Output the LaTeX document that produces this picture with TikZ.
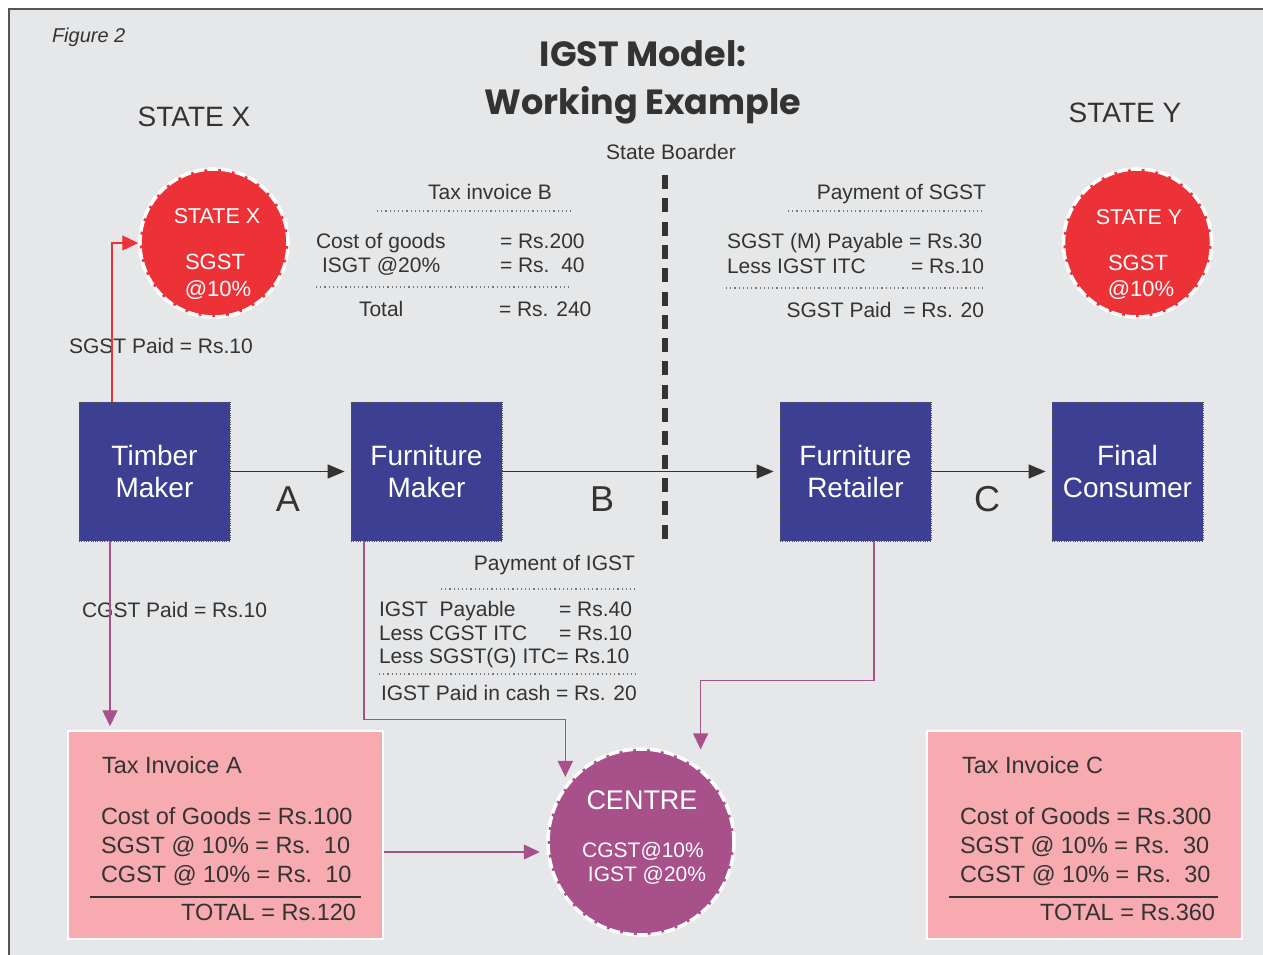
\documentclass[tikz,border=0pt]{standalone}
\usepackage{fontspec}
\setmainfont{Liberation Sans}
\newfontfamily\titlefont{Poppins}
\usetikzlibrary{arrows.meta}
\definecolor{bg}{HTML}{E6E7E9}
\definecolor{txt}{HTML}{333333}
\definecolor{boxblue}{HTML}{3D3F93}
\definecolor{sred}{HTML}{EC3237}
\definecolor{mag}{HTML}{A8508A}
\definecolor{pinkbox}{HTML}{F7ABB0}
\definecolor{framec}{HTML}{555555}
\definecolor{dotc}{HTML}{777777}
\begin{document}
\begin{tikzpicture}[x=1pt,y=-1pt,
  lbl/.style={text=txt, inner sep=0pt, outer sep=0pt},
  small/.style={lbl, font=\fontsize{21}{25}\selectfont},
  inv/.style={lbl, font=\fontsize{23.5}{28}\selectfont},
  wlbl/.style={text=white, inner sep=0pt, outer sep=0pt},
  actor/.style={rectangle, fill=boxblue, draw=framec, dash pattern=on 1pt off 1.3pt, line width=0.8pt,
    minimum width=151pt, minimum height=139pt, text=white, align=center,
    font=\fontsize{28}{32}\selectfont, inner sep=0pt},
  statecirc/.style={circle, fill=sred, draw=white, line width=3.5pt, dash pattern=on 11pt off 3pt,
    minimum size=148pt, inner sep=0pt},
  centrecirc/.style={circle, fill=mag, draw=white, line width=3.5pt, dash pattern=on 11pt off 3pt,
    minimum size=186pt, inner sep=0pt},
  invoicebox/.style={rectangle, fill=pinkbox, draw=white, line width=1.5pt,
    minimum width=315pt, minimum height=208pt, inner sep=0pt},
  flow/.style={draw=txt, line width=1.6pt, -{Triangle[length=17pt,width=14pt]}, shorten >=6pt},
  magflow/.style={draw=mag, line width=1.3pt, -{Triangle[length=16pt,width=15pt]}},
  redflow/.style={draw=sred, line width=1.3pt, -{Triangle[length=16pt,width=15pt]}},
  sepline/.style={draw=dotc, line width=1.1pt, dash pattern=on 1.1pt off 3.1pt},
  ruleline/.style={draw=txt, line width=1.2pt},
  borderline/.style={draw=txt, line width=6.5pt, dash pattern=on 14pt off 9.3pt}
]
\useasboundingbox (0,0) rectangle (1263,955);
% frame
\fill[white] (0,0) rectangle (1263,955);
\fill[bg] (9,9) rectangle (1263,955);
\draw[framec, line width=1.5pt] (9,955) -- (9,9) -- (1263,9);

% headings
\node[lbl, anchor=base west, font=\fontsize{20}{24}\selectfont\itshape] (fig) at (52,43) {Figure 2};
\node[lbl, anchor=base, font=\titlefont\bfseries\fontsize{35}{40}\selectfont] (t1) at (643,67) {IGST Model:};
\node[lbl, anchor=base, font=\titlefont\bfseries\fontsize{35}{40}\selectfont] (t2) at (643,114) {Working Example};
\node[lbl, anchor=base, font=\fontsize{28}{32}\selectfont] (hx) at (194,127) {STATE X};
\node[lbl, anchor=base, font=\fontsize{28}{32}\selectfont] (hy) at (1125,123) {STATE Y};
\node[lbl, anchor=base, font=\fontsize{21}{25}\selectfont] (sb) at (671,160) {State Boarder};

% state circles
\node[statecirc] (sx) at (214,243) {};
\node[wlbl, anchor=base, font=\fontsize{21.5}{25}\selectfont] (sx1) at (217,223) {STATE X};
\node[wlbl, anchor=base, font=\fontsize{22}{25}\selectfont] (sx2) at (215,269) {SGST};
\node[wlbl, anchor=base, font=\fontsize{22}{25}\selectfont] (sx3) at (218,296) {@10\%};
\node[statecirc] (sy) at (1137.5,243) {};
\node[wlbl, anchor=base, font=\fontsize{21.5}{25}\selectfont] (sy1) at (1139,224) {STATE Y};
\node[wlbl, anchor=base, font=\fontsize{22}{25}\selectfont] (sy2) at (1138,270) {SGST};
\node[wlbl, anchor=base, font=\fontsize{22}{25}\selectfont] (sy3) at (1141,296) {@10\%};

% Tax invoice B block
\node[small, anchor=base] (tb0) at (490,199) {Tax invoice B};
\draw[sepline] (377,211) -- (572,211);
\node[small, anchor=base west] (tb1) at (316,248) {Cost of goods};
\node[small, anchor=base west] (tb1v) at (500,248) {= Rs.200};
\node[small, anchor=base west] (tb2) at (322,272) {ISGT @20\%};
\node[small, anchor=base west] (tb2v) at (500,272) {= Rs.\ \ 40};
\draw[sepline] (316,287) -- (570,287);
\node[small, anchor=base west] (tb3) at (359,316) {Total};
\node[small, anchor=base west] (tb3v) at (499,316) {= Rs. 240};

% Payment of SGST block
\node[small, anchor=base east] (ps0) at (986,199) {Payment of SGST};
\draw[sepline] (788,211) -- (983,211);
\node[small, anchor=base west] (ps1) at (727,248) {SGST (M) Payable = Rs.30};
\node[small, anchor=base west] (ps2) at (727,273) {Less IGST ITC};
\node[small, anchor=base east] (ps2v) at (984,273) {= Rs.10};
\draw[sepline] (726,288) -- (983,288);
\node[small, anchor=base east] (ps3) at (984,317) {SGST Paid\ \ = Rs. 20};

% Payment of IGST block
\node[small, anchor=base east] (pi0) at (635,570) {Payment of IGST};
\draw[sepline] (441,589) -- (635,589);
\node[small, anchor=base west] (pi1) at (379,616) {IGST\ \ Payable};
\node[small, anchor=base west] (pi1v) at (559,616) {= Rs.40};
\node[small, anchor=base west] (pi2) at (379,640) {Less CGST ITC};
\node[small, anchor=base west] (pi2v) at (559,640) {= Rs.10};
\node[small, anchor=base west] (pi3) at (379,663) {Less SGST(G) ITC= Rs.10};
\draw[sepline] (379,674) -- (636,674);
\node[small, anchor=base west] (pi4) at (381,700) {IGST Paid in cash = Rs. 20};

% side labels
\node[small, anchor=base west] (sgp) at (69,353) {SGST Paid = Rs.10};
\node[small, anchor=base west] (cgp) at (82,617) {CGST Paid = Rs.10};

% actors
\node[actor] (tm) at (154.5,471.5) {Timber\\Maker};
\node[actor] (fm) at (426.5,471.5) {Furniture\\Maker};
\node[actor] (fr) at (855.5,471.5) {Furniture\\Retailer};
\node[actor] (fc) at (1127.5,471.5) {Final\\Consumer};

% flow labels
\node[lbl, anchor=base, font=\fontsize{36}{40}\selectfont] (la) at (288,511) {A};
\node[lbl, anchor=base, font=\fontsize{36}{40}\selectfont] (lb) at (602,511) {B};
\node[lbl, anchor=base, font=\fontsize{36}{40}\selectfont] (lc) at (987,511) {C};

% invoices
\node[invoicebox] (pa) at (225.5,835) {};
\node[inv, anchor=base west] (pa0) at (102,773) {Tax Invoice A};
\node[inv, anchor=base west] (pa1) at (101,824) {Cost of Goods = Rs.100};
\node[inv, anchor=base west] (pa2) at (101,853) {SGST @ 10\% = Rs.\ \ 10};
\node[inv, anchor=base west] (pa3) at (101,882) {CGST @ 10\% = Rs.\ \ 10};
\draw[ruleline] (90,897) -- (361,897);
\node[inv, anchor=base east] (pa4) at (356,920) {TOTAL = Rs.120};

\node[invoicebox] (pc) at (1084.5,835) {};
\node[inv, anchor=base west] (pc0) at (962,773) {Tax Invoice C};
\node[inv, anchor=base west] (pc1) at (960,824) {Cost of Goods = Rs.300};
\node[inv, anchor=base west] (pc2) at (960,853) {SGST @ 10\% = Rs.\ \ 30};
\node[inv, anchor=base west] (pc3) at (960,882) {CGST @ 10\% = Rs.\ \ 30};
\draw[ruleline] (949,897) -- (1218,897);
\node[inv, anchor=base east] (pc4) at (1215,920) {TOTAL = Rs.360};

% centre
\node[centrecirc] (centre) at (641,842) {};
\node[wlbl, anchor=base, font=\fontsize{27}{30}\selectfont] (ce1) at (642,809) {CENTRE};
\node[wlbl, anchor=base, font=\fontsize{21}{25}\selectfont] (ce2) at (643,857) {CGST@10\%};
\node[wlbl, anchor=base, font=\fontsize{21}{25}\selectfont] (ce3) at (647,881) {IGST @20\%};

% connectors
\draw[flow] (tm.east) -- (fm.west);
\draw[flow] (fm.east) -- (fr.west);
\draw[flow] (fr.east) -- (fc.west);

\coordinate (tmt) at ([xshift=-42.5pt]tm.north);
\draw[redflow] (tmt) |- (sx.west);

\coordinate (tmb) at ([xshift=-44.5pt]tm.south);
\draw[magflow, shorten >=4pt] (tmb) -- (tmb |- pa.north);

\coordinate (fmb) at ([xshift=-62.5pt]fm.south);
\draw[magflow, shorten >=8pt] (fmb) -- ++(0,178) -| (centre.143);

\coordinate (frb) at ([xshift=18.5pt]fr.south);
\draw[magflow, shorten >=19pt] (frb) -- ++(0,139) -| (centre.51);

\coordinate (pae) at ([yshift=-17pt]pa.east);
\draw[magflow, shorten >=6.5pt] (pae) -- (pae -| centre.west);

% state border
\coordinate (bt) at (665,175);
\coordinate (bb) at (665,541);
\draw[borderline] (bt) -- (bb);
\end{tikzpicture}
\end{document}
